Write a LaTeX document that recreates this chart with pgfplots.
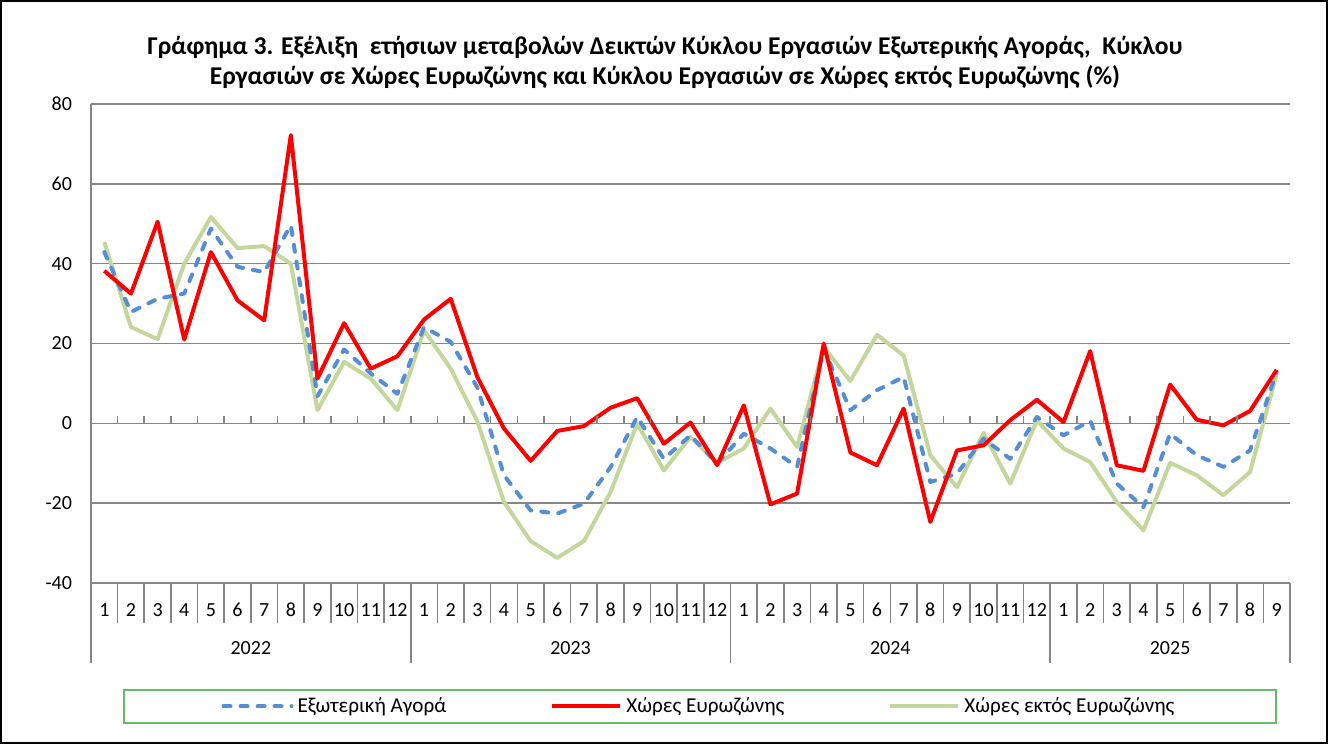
\documentclass[border=0pt]{standalone}
\usepackage{fontspec}
\setmainfont{Carlito}
\usepackage{pgfplots}
\usepackage{pgfplotstable}
\pgfplotsset{compat=1.18}
\definecolor{cBlue}{RGB}{85,142,213}
\definecolor{cRed}{RGB}{255,0,0}
\definecolor{cGreen}{RGB}{195,214,155}
\definecolor{cGrid}{RGB}{134,134,134}
\definecolor{cLeg}{RGB}{102,187,106}

\pgfplotstableread{
x blue red green
1 42.9 38.2 45.4
2 27.9 32.5 24.1
3 31.2 50.5 21.1
4 32.5 21.0 40.0
5 48.8 42.9 51.7
6 39.2 30.8 43.9
7 37.9 25.8 44.4
8 49.6 72.2 40.0
9 6.8 11.2 3.3
10 18.5 25.1 15.4
11 12.5 13.7 11.2
12 7.4 16.8 3.3
13 24.1 26.0 23.3
14 20.4 31.2 13.7
15 9.0 11.6 0.5
16 -13.0 -1.3 -19.7
17 -21.8 -9.4 -29.5
18 -22.6 -1.9 -33.7
19 -20.1 -0.7 -29.5
20 -11.0 3.9 -17.2
21 1.6 6.3 -0.1
22 -8.9 -5.1 -11.8
23 -3.0 0.2 -3.4
24 -10.1 -10.5 -9.9
25 -2.6 4.5 -6.3
26 -6.3 -20.3 3.7
27 -10.9 -17.6 -5.9
28 18.7 20.0 19.1
29 3.3 -7.3 10.6
30 8.3 -10.5 22.2
31 11.6 3.7 17.0
32 -14.7 -24.7 -8.0
33 -12.6 -6.8 -16.0
34 -3.8 -5.5 -2.4
35 -8.9 0.8 -15.1
36 1.6 5.9 0.75
37 -3.0 0.3 -6.3
38 0.6 18.1 -9.7
39 -15.1 -10.5 -19.7
40 -21.0 -11.9 -26.8
41 -2.6 9.7 -9.9
42 -8.0 0.9 -13.0
43 -10.9 -0.5 -18.0
44 -6.8 3.1 -12.2
45 12.9 13.4 12.4
}\datatable

\begin{document}
\begin{tikzpicture}
\useasboundingbox (0pt,0pt) rectangle (664pt,-372pt);
\draw[line width=2pt] (0pt,0pt) rectangle (664pt,-372pt);
\node[align=center, font=\fontsize{12.8}{15}\selectfont\bfseries] at (332.5pt,-31pt)
 {Γράφημα 3. Εξέλιξη\ \ ετήσιων μεταβολών Δεικτών Κύκλου Εργασιών Εξωτερικής Αγοράς,\ \ Κύκλου\\
  Εργασιών σε Χώρες Ευρωζώνης και Κύκλου Εργασιών σε Χώρες εκτός Ευρωζώνης (\%)};
\begin{axis}[
 at={(45.5pt,-291.5pt)}, anchor=south west,
 scale only axis, width=599.5pt, height=239.5pt,
 xmin=0.5, xmax=45.5, ymin=-40, ymax=80,
 ytick={-40,-20,...,80},
 xtick={1,...,45},
 xticklabels={1,2,3,4,5,6,7,8,9,10,11,12,1,2,3,4,5,6,7,8,9,10,11,12,1,2,3,4,5,6,7,8,9,10,11,12,1,2,3,4,5,6,7,8,9},
 major tick length=0pt,
 tick style={draw=none},
 axis line style={draw=none},
 ymajorgrids, grid style={cGrid, line width=0.8pt},
 /pgf/number format/assume math mode=true,
 tick label style={font=\fontsize{10}{12}\selectfont},
 yticklabel style={xshift=-6pt},
 xticklabel style={anchor=center, yshift=-13.5pt},
 clip=false,
 legend columns=3,
 legend cell align=left,
 legend image code/.code={\draw[#1] (0pt,0pt) -- (34pt,0pt);},
 legend style={at={(0.5079,-0.2578)}, anchor=center, draw=cLeg, line width=1pt,
   inner xsep=49pt, inner ysep=2pt, font=\fontsize{10.6}{12}\selectfont,
   /tikz/every even column/.append style={column sep=50pt}},
]
\addlegendimage{cBlue, line width=2pt, line cap=round, dash pattern=on 3.5pt off 5pt}
\addlegendentry{Εξωτερική Αγορά}
\addlegendimage{cRed, line width=2pt}
\addlegendentry{Χώρες Ευρωζώνης}
\addlegendimage{cGreen, line width=2pt}
\addlegendentry{Χώρες εκτός Ευρωζώνης}
\addplot[forget plot, cGreen, line width=2pt, line join=round] table[x=x,y=green]{\datatable};
\addplot[forget plot, cBlue, line width=2pt, line join=round, line cap=round, dash pattern=on 3.5pt off 5pt] table[x=x,y=blue]{\datatable};
\addplot[forget plot, cRed, line width=2pt, line join=round] table[x=x,y=red]{\datatable};
% axis decorations
\draw[cGrid, line width=0.8pt] (rel axis cs:0,1) -- ([yshift=-40pt]rel axis cs:0,0);
\pgfplotsinvokeforeach{1.5,2.5,...,44.5}{
  \draw[cGrid, line width=0.8pt] (axis cs:#1,-40) -- ++(0pt,-20pt);
  \draw[cGrid, line width=0.8pt] (axis cs:#1,0) -- ++(0pt,3.5pt);
}
\pgfplotsinvokeforeach{12.5,24.5,36.5,45.5}{
  \draw[cGrid, line width=0.8pt] (axis cs:#1,-40) -- ++(0pt,-40pt);
}
\node[font=\fontsize{10}{12}\selectfont] at ([yshift=-32.5pt]axis cs:6.5,-40) {2022};
\node[font=\fontsize{10}{12}\selectfont] at ([yshift=-32.5pt]axis cs:18.5,-40) {2023};
\node[font=\fontsize{10}{12}\selectfont] at ([yshift=-32.5pt]axis cs:30.5,-40) {2024};
\node[font=\fontsize{10}{12}\selectfont] at ([yshift=-32.5pt]axis cs:41,-40) {2025};
\end{axis}
\end{tikzpicture}
\end{document}
